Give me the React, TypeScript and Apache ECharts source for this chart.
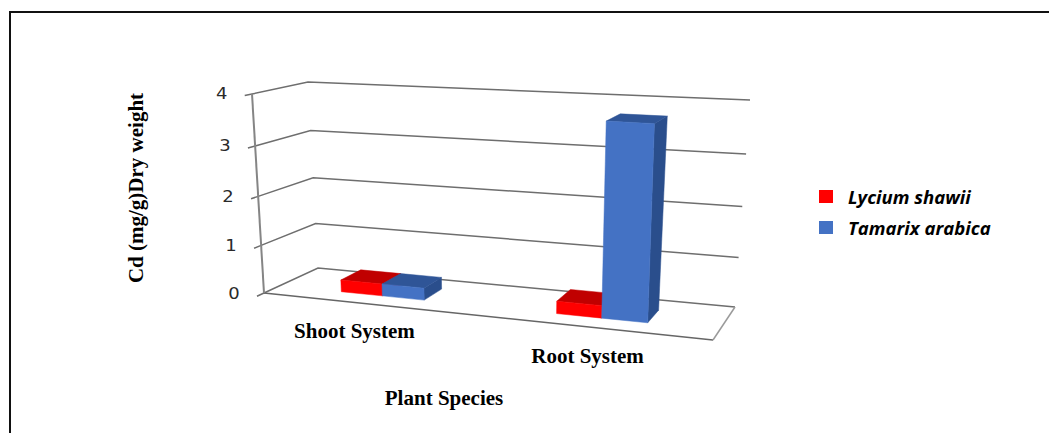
import React, { useEffect, useRef } from "react";
import * as echarts from "echarts";

const categories = ["Shoot System", "Root System"];
const lyciumShawii = [0.25, 0.25];
const tamarixArabica = [0.25, 3.75];
const tickValues = [0, 1, 2, 3, 4];
const seriesNames = ["Lycium shawii", "Tamarix arabica"];
const yAxisTitle = "Cd (mg/g)Dry weight";
const xAxisTitle = "Plant Species";

const RED = { front: "#FF0000", top: "#C00000", side: "#A80000" };
const BLUE = { front: "#4472C4", top: "#2F5597", side: "#2A4E8C" };

// corners of the 3-D box on screen
const C = {
  f0: [264, 293], r0: [713, 340], b0: [318, 268], e0: [735, 307],
  f1: [252, 94], r1: [722, 119], b1: [308, 82], e1: [750, 100],
};
const persp = (x: number, k: number) => x / (x + k * (1 - x));
const lerp = (a: number, b: number, s: number) => a + (b - a) * s;

function project(uRaw: number, t: number, vRaw: number) {
  const u = persp(uRaw, 1.1);
  const v = persp(vRaw, 1.06);
  const out = [0, 1].map((i) => {
    const bottomF = lerp(C.f0[i], C.r0[i], u);
    const bottomB = lerp(C.b0[i], C.e0[i], u);
    const topF = lerp(C.f1[i], C.r1[i], u);
    const topB = lerp(C.b1[i], C.e1[i], u);
    return lerp(lerp(bottomF, bottomB, t), lerp(topF, topB, t), v);
  });
  return out;
}

function norm(api: any, params: any, x: any, y: any) {
  const p = api.coord([x, y]);
  const cs = params.coordSys;
  return [(p[0] - cs.x) / cs.width, 1 - (p[1] - cs.y) / cs.height];
}

const poly = (points: number[][], fill: string) => ({
  type: "polygon",
  shape: { points },
  style: { fill, stroke: fill, lineWidth: 0.5 },
});
const line = (points: number[][], stroke: string, lineWidth: number) => ({
  type: "polyline",
  shape: { points },
  style: { stroke, lineWidth, fill: "none" },
});

function wallRender(params: any, api: any) {
  const value = api.value(0);
  const [, v] = norm(api, params, 0, value);
  const children: any[] = [];
  const tick = project(0, -0.13, v);
  const a = project(0, 0, v);
  const b = project(0, 1, v);
  const c = project(1, 1, v);
  children.push(line([tick, a, b, c], "#6e6e6e", 1.5));
  if (value === 0) {
    const d = project(1, 0, 0);
    children.push(line([a, d], "#666666", 1.6));
    children.push(line([d, c], "#9a9a9a", 1.5));
  }
  children.push({
    type: "text",
    x: tick[0] - 23,
    y: tick[1] - 2,
    scaleX: 1.2,
    style: {
      text: String(value),
      fontFamily: "DejaVu Sans",
      fontSize: 15,
      fill: "#2a2a2a",
      align: "center",
      verticalAlign: "middle",
    },
  });
  return { type: "group", children };
}

function axisLineRender(params: any, api: any) {
  const [, v0] = norm(api, params, 0, api.value(0));
  const [, v1] = norm(api, params, 0, api.value(1));
  return line([project(0, 0, v0), project(0, 0, v1)], "#858585", 2);
}

const DEPTH_FRONT = 0.3;
const DEPTH_BACK = 0.7;

function barRender(colors: typeof RED, slot: number) {
  return (params: any, api: any) => {
    const idx = api.value(0);
    const [uc] = norm(api, params, idx, 0);
    const band = api.size([1, 0])[0] / params.coordSys.width;
    const w = band * 0.198;
    const u0 = uc + (slot - 1) * w;
    const u1 = u0 + w;
    const [, v] = norm(api, params, idx, api.value(1));
    const P = (u: number, t: number, h: number) => project(u, t, h);
    const tF = DEPTH_FRONT;
    const tB = DEPTH_BACK;
    return {
      type: "group",
      children: [
        poly([P(u1, tF, 0), P(u1, tB, 0), P(u1, tB, v), P(u1, tF, v)], colors.side),
        poly([P(u0, tF, v), P(u1, tF, v), P(u1, tB, v), P(u0, tB, v)], colors.top),
        poly([P(u0, tF, 0), P(u1, tF, 0), P(u1, tF, v), P(u0, tF, v)], colors.front),
      ],
    };
  };
}

const labelOffsets = [[-14, 27], [-5, 29]];

function categoryLabelRender(params: any, api: any) {
  const idx = api.value(0);
  const [uc] = norm(api, params, idx, 0);
  const p = project(uc, 0, 0);
  return {
    type: "text",
    x: p[0] + labelOffsets[idx][0],
    y: p[1] + labelOffsets[idx][1],
    style: {
      text: categories[idx],
      fontFamily: "Liberation Serif",
      fontWeight: "bold",
      fontSize: 21,
      fill: "#000",
      align: "center",
      verticalAlign: "middle",
    },
  };
}

export default function App() {
  const ref = useRef<HTMLDivElement>(null);
  useEffect(() => {
    const chart = echarts.init(ref.current!, undefined, { renderer: "svg" });
    chart.setOption({
      animation: false,
      backgroundColor: "#fff",
      grid: { left: 264, top: 88, width: 360, height: 200 },
      xAxis: {
        type: "category",
        data: categories,
        name: xAxisTitle,
        nameLocation: "middle",
        nameGap: 99,
        nameTextStyle: { fontFamily: "Liberation Serif", fontWeight: "bold", fontSize: 21, color: "#000" },
        axisLine: { show: false },
        axisTick: { show: false },
        axisLabel: { show: false },
        splitLine: { show: false },
      },
      yAxis: {
        type: "value",
        min: 0,
        max: 4,
        interval: 1,
        name: yAxisTitle,
        nameLocation: "middle",
        nameRotate: 90,
        nameGap: 118,
        nameTextStyle: { fontFamily: "Liberation Serif", fontWeight: "bold", fontSize: 21, color: "#000" },
        axisLine: { show: false },
        axisTick: { show: false },
        axisLabel: { show: false },
        splitLine: { show: false },
      },
      legend: {
        left: 814,
        top: 182,
        orient: "vertical",
        itemWidth: 14,
        itemHeight: 13,
        itemGap: 12,
        data: seriesNames.map((name, i) => ({
          name,
          icon: "rect",
          itemStyle: { color: i === 0 ? RED.front : BLUE.front },
        })),
        textStyle: {
          fontFamily: "Open Sans",
          fontStyle: "italic",
          fontWeight: "bold",
          fontSize: 18.5,
          color: "#000",
          padding: [0, 0, 0, 10],
        },
      },
      graphic: [
        {
          type: "polyline",
          shape: { points: [[10, 433], [10, 12], [1049, 12]] },
          style: { stroke: "#111", lineWidth: 2, fill: "none" },
          silent: true,
        },
      ],
      series: [
        {
          type: "custom",
          name: "walls",
          silent: true,
          renderItem: wallRender,
          data: tickValues.map((v) => [v]),
          encode: { y: 0 },
          z: 1,
        },
        {
          type: "custom",
          name: "axis",
          silent: true,
          renderItem: axisLineRender,
          data: [[tickValues[0], tickValues[tickValues.length - 1]]],
          encode: { y: [0, 1] },
          z: 2,
        },
        {
          type: "custom",
          name: seriesNames[0],
          itemStyle: { color: RED.front },
          renderItem: barRender(RED, 0),
          data: lyciumShawii.map((v, i) => [i, v]),
          encode: { x: 0, y: 1 },
          z: 3,
        },
        {
          type: "custom",
          name: seriesNames[1],
          itemStyle: { color: BLUE.front },
          renderItem: barRender(BLUE, 1),
          data: tamarixArabica.map((v, i) => [i, v]),
          encode: { x: 0, y: 1 },
          z: 4,
        },
        {
          type: "custom",
          name: "categoryLabels",
          silent: true,
          renderItem: categoryLabelRender,
          data: categories.map((_, i) => [i]),
          encode: { x: 0 },
          z: 5,
        },
      ],
    });
    return () => chart.dispose();
  }, []);
  return (
    <div
      ref={ref}
      style={{ position: "absolute", left: 0, top: 0, width: 1049, height: 433 }}
    />
  );
}
